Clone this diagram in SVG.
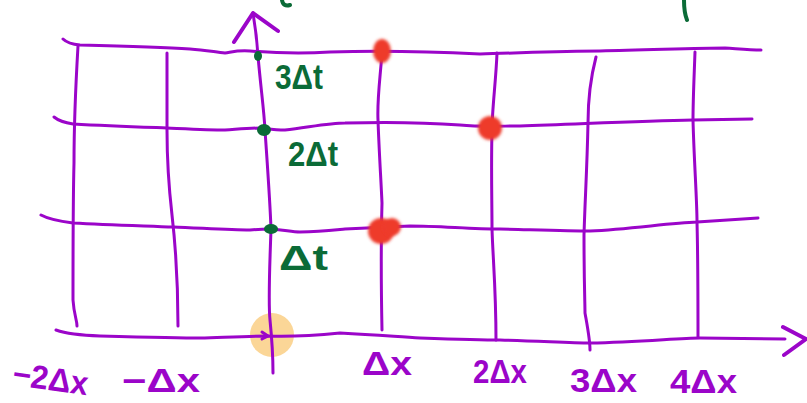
<svg xmlns="http://www.w3.org/2000/svg" width="807" height="403" viewBox="0 0 807 403">
<style>
.ln{fill:none;stroke:#9B05C9;stroke-width:3;stroke-linecap:round;stroke-linejoin:round}
.ax{fill:none;stroke:#9B05C9;stroke-width:4;stroke-linecap:round;stroke-linejoin:round}
.xl{fill:#9B05C9;font-family:"Liberation Sans",Arial,sans-serif;font-size:33px;font-weight:bold}
.tl{fill:#0B6B37;font-family:"Liberation Sans",Arial,sans-serif;font-size:35px;font-weight:bold}
.gd{fill:#0B6B37}
.rd{fill:#EE3A2A;filter:url(#blur)}
.gf{fill:none;stroke:#0B6B37;stroke-width:4;stroke-linecap:round}
</style>
<defs>
<filter id="blur" x="-50%" y="-50%" width="200%" height="200%"><feGaussianBlur stdDeviation="1.8"/></filter>
</defs>
<rect width="807" height="403" fill="#ffffff"/>
<g id="highlight">
<circle cx="272" cy="335" r="22" fill="#FBD697"/>
</g>
<g id="fragments">
<path class="gf" d="M282,0 Q283,7 290,5"/>
<path class="gf" d="M684,0 C684,8 685,15 687,20"/>
</g>
<g id="grid">
<path class="ln" d="M63,39 Q68,44 80,45 C120,46 160,47 190,49 C205,50 215,52 225,53 C232,52 238,50 250,51 C275,53 300,54 330,52 C360,51 420,51 480,54 C520,53 560,51 600,51 C650,50 700,48 725,48 C740,49 750,50 761,50"/>
<path class="ln" d="M54,117 Q60,122 73,124 C110,126 140,127 167,128 C190,129 210,130 225,130 C240,129 250,128 262,128 C270,129 276,130 285,130 C310,127 330,123 345,123 C380,122 420,122 460,125 C480,127 500,126 520,126 C580,124 640,121 693,120 L752,119"/>
<path class="ln" d="M41,215 Q50,220 73,223 C110,225 150,226 173,227 C200,228 230,230 250,230 C260,229 265,229 271,229 C285,230 292,232 300,232 C320,232 335,230 345,229 C370,228 390,227 410,226 C440,226 470,229 500,229 C540,230 570,231 590,231 C630,229 670,223 697,222 L758,218"/>
<path class="ln" d="M78,46 C76,80 74,130 74,163 C73,200 73,250 73,300 C74,315 77,320 77,326"/>
<path class="ln" d="M167,53 L167,130 C167,160 168,180 172,215 C176,250 178,290 178,326"/>
<path class="ln" d="M382,53 C380,80 377,100 378,120 C379,150 381,180 382,203 C381,240 381,280 382,330"/>
<path class="ln" d="M497,53 C496,80 492,110 492,130 C491,170 492,200 492,229 C493,260 496,290 496,340"/>
<path class="ln" d="M596,57 C590,80 588,100 588,123 C587,170 585,200 584,235 C584,280 585,305 585,313 C588,330 590,340 590,350"/>
<path class="ln" d="M695,52 C694,80 693,100 693,120 C694,160 697,200 697,222 C698,260 698,300 698,337"/>
</g>
<g id="axes">
<path class="ln" d="M56,330 Q70,335 100,336 C140,337 180,338 200,338 C230,337 250,336 267,336 C290,337 320,335 340,333 C380,335 400,337 420,338 C450,339 480,340 500,340 C540,341 570,343 590,343 C640,342 680,338 700,338 L785,339"/>
<path class="ax" d="M783,327 L806,339 L784,355"/>
<path class="ln" d="M262,332 L268,336 L262,339"/>
<path class="ln" d="M253,13 C255,25 257,40 258,56 C261,90 264,110 265,130 C267,160 270,200 271,229 C270,260 268,300 270,320 C272,340 273,360 273,373"/>
<path class="ax" d="M234,42 L253,13 L278,31"/>
</g>
<g id="time-points">
<ellipse class="gd" cx="258" cy="56" rx="4" ry="5"/>
<ellipse class="gd" cx="264" cy="130" rx="7" ry="6"/>
<ellipse class="gd" cx="271" cy="229" rx="7" ry="5"/>
</g>
<g id="red-points">
<ellipse class="rd" cx="382" cy="51" rx="9" ry="12"/>
<circle class="rd" cx="490" cy="128" r="12"/>
<circle class="rd" cx="381" cy="231" r="13"/>
<circle class="rd" cx="392" cy="227" r="9"/>
</g>
<g id="x-labels">
<text class="xl" x="12" y="390" textLength="76" lengthAdjust="spacingAndGlyphs" transform="rotate(8 50 383)">−2Δx</text>
<text class="xl" x="122" y="392" textLength="78" lengthAdjust="spacingAndGlyphs">−Δx</text>
<text class="xl" x="362" y="375" textLength="50" lengthAdjust="spacingAndGlyphs">Δx</text>
<text class="xl" x="473" y="383" textLength="54" lengthAdjust="spacingAndGlyphs">2Δx</text>
<text class="xl" x="570" y="392" textLength="67" lengthAdjust="spacingAndGlyphs">3Δx</text>
<text class="xl" x="670" y="393" textLength="67" lengthAdjust="spacingAndGlyphs">4Δx</text>
</g>
<g id="t-labels">
<text class="tl" x="275" y="89" textLength="48" lengthAdjust="spacingAndGlyphs">3Δt</text>
<text class="tl" x="288" y="166" textLength="50" lengthAdjust="spacingAndGlyphs">2Δt</text>
<text class="tl" x="279" y="270" textLength="49" lengthAdjust="spacingAndGlyphs">Δt</text>
</g>
</svg>
